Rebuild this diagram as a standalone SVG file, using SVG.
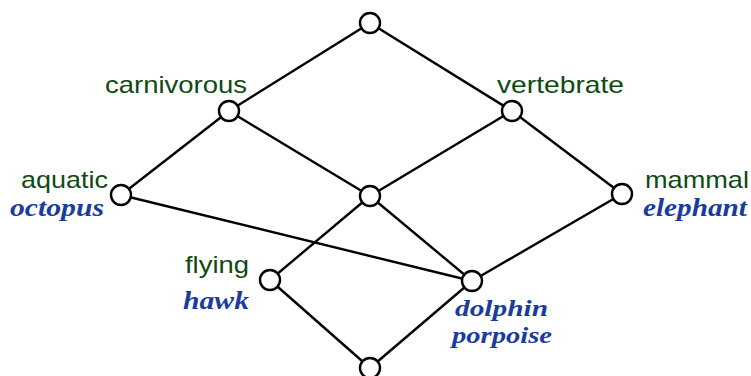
<svg xmlns="http://www.w3.org/2000/svg" width="751" height="376" viewBox="0 0 751 376">
<style>
.e{stroke:#000;stroke-width:2.4;fill:none}
.n{fill:#fff;stroke:#000;stroke-width:2.4}
.a{font-family:"Liberation Sans",Arial,sans-serif;font-size:24px;fill:#0f4a12}
.o{font-family:"Liberation Serif","Times New Roman",serif;font-size:25px;font-weight:bold;font-style:italic;fill:#1a3d9c}
.o2{font-family:"Liberation Serif","Times New Roman",serif;font-size:24px;font-weight:bold;font-style:italic;fill:#1a3d9c}
</style>
<rect width="751" height="376" fill="#fff"/>
<g id="connectors">
<line class="e" x1="370" y1="23" x2="229" y2="111"/>
<line class="e" x1="370" y1="23" x2="512" y2="111"/>
<line class="e" x1="229" y1="111" x2="121" y2="195"/>
<line class="e" x1="229" y1="111" x2="370" y2="196"/>
<line class="e" x1="512" y1="111" x2="370" y2="196"/>
<line class="e" x1="512" y1="111" x2="622" y2="194"/>
<line class="e" x1="121" y1="195" x2="472" y2="281"/>
<line class="e" x1="370" y1="196" x2="270" y2="280"/>
<line class="e" x1="370" y1="196" x2="472" y2="281"/>
<line class="e" x1="622" y1="194" x2="472" y2="281"/>
<line class="e" x1="270" y1="280" x2="370" y2="368"/>
<line class="e" x1="472" y1="281" x2="370" y2="368"/>
</g>
<g id="top"><circle class="n" cx="370" cy="23" r="10"/></g>
<g id="carnivorous"><circle class="n" cx="229" cy="111" r="10"/><text class="a" x="105" y="93" textLength="142" lengthAdjust="spacingAndGlyphs">carnivorous</text></g>
<g id="vertebrate"><circle class="n" cx="512" cy="111" r="10"/><text class="a" x="497" y="93" textLength="127" lengthAdjust="spacingAndGlyphs">vertebrate</text></g>
<g id="aquatic"><circle class="n" cx="121" cy="195" r="10"/><text class="a" x="21" y="188" textLength="87" lengthAdjust="spacingAndGlyphs">aquatic</text><text class="o" x="10" y="216" textLength="94" lengthAdjust="spacingAndGlyphs">octopus</text></g>
<g id="middle"><circle class="n" cx="370" cy="196" r="10"/></g>
<g id="mammal"><circle class="n" cx="622" cy="194" r="10"/><text class="a" x="645" y="188" textLength="104" lengthAdjust="spacingAndGlyphs">mammal</text><text class="o" x="643" y="216" textLength="104" lengthAdjust="spacingAndGlyphs">elephant</text></g>
<g id="flying"><circle class="n" cx="270" cy="280" r="10"/><text class="a" x="185" y="273" textLength="64" lengthAdjust="spacingAndGlyphs">flying</text><text class="o" x="183" y="309" textLength="66" lengthAdjust="spacingAndGlyphs">hawk</text></g>
<g id="dolphin"><circle class="n" cx="472" cy="281" r="10"/><text class="o2" x="455" y="316" textLength="93" lengthAdjust="spacingAndGlyphs">dolphin</text><text class="o2" x="452" y="343" textLength="100" lengthAdjust="spacingAndGlyphs">porpoise</text></g>
<g id="bottom"><circle class="n" cx="370" cy="368" r="10"/></g>
</svg>
